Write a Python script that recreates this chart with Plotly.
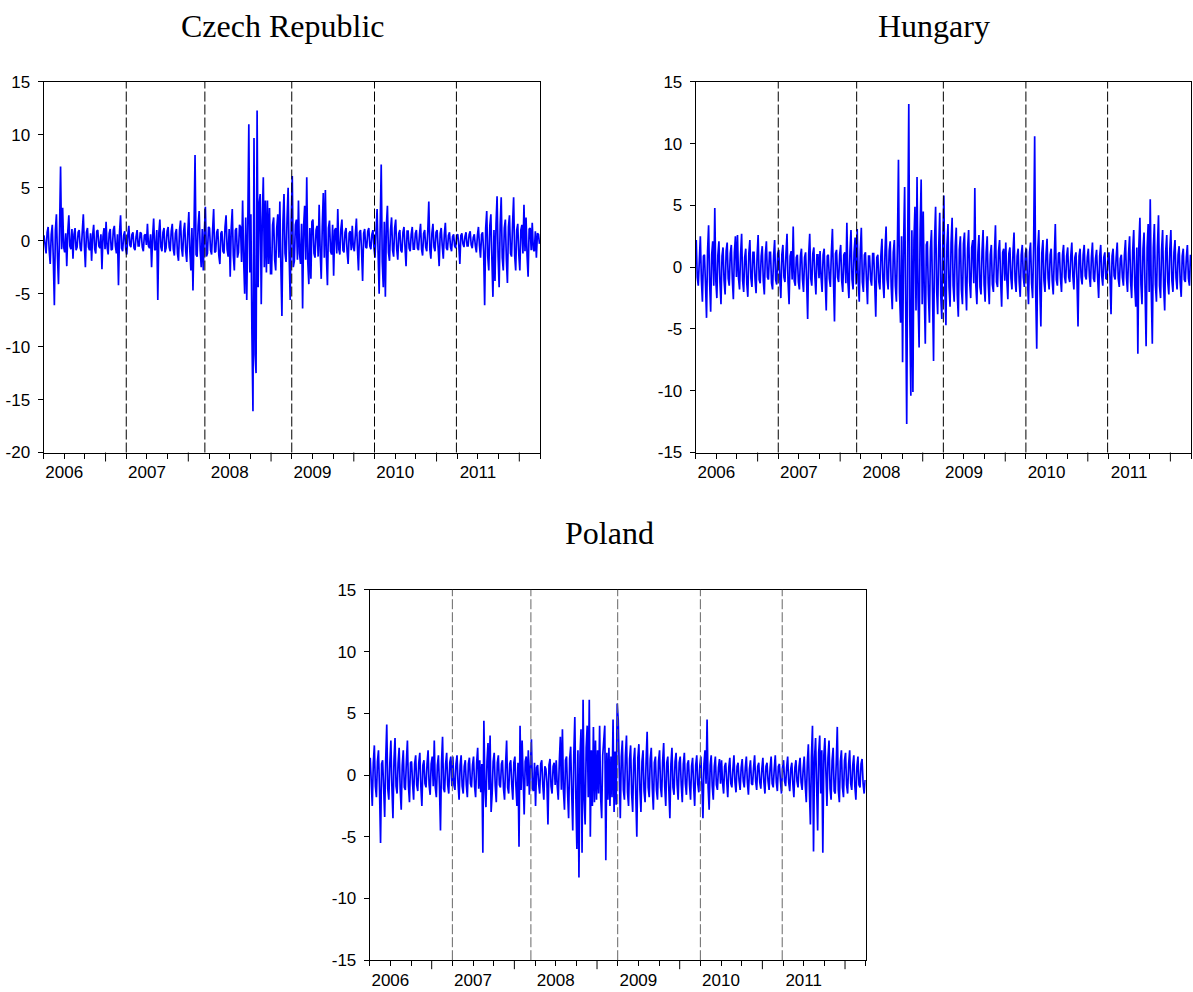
import numpy as np
import plotly.graph_objects as go

# ---------------- data (one row = one quarter, Q2-2006 .. Q1-2012) ----------
czech = [
    0.5, -0.3, -1.2, 0.8, 1.3, -0.9, -2.2, 0.6, 1.5, -1.8, -6.1, 1.0, 2.5, -1.5, -4.1, 0.9, 7.0, -0.8, 3.1, -0.6,
    -1.1, 0.7, -2.4, 0.9, 2.4, -0.5, -0.8, 1.1, -1.7, 0.6, 1.2, -0.9, -0.6, 0.8, 1.0, -0.7, -1.0, 0.9, 2.5, -0.4,
    -2.5, 0.8, 1.2, -0.6, -0.9, 0.7, -1.9, 0.5, 1.5, -0.8, -1.2, 0.9, 1.0, -0.5, -0.7, 0.6, -2.7, 0.4, 1.2, -0.8,
    1.8, -0.6, -1.3, 0.7, 1.1, -0.9, -0.8, 1.0, 1.4, -0.5, -1.2, 0.6, -4.2, 0.8, 2.4, -0.7, -1.0, 0.5, 0.9, -0.8,
    -1.3, 0.5, 1.4, -0.4, -0.6, 0.6, 0.8, -0.7, -0.9, 0.4, 1.0, -0.5, -0.5, 0.8, 0.7, -0.6, -1.0, 0.5, 0.6, -0.4,
    1.6, -0.5, -0.7, 0.6, -2.5, 0.4, 2.1, -0.9, -0.8, 1.0, -5.6, 0.7, 2.0, -0.6, -1.0, 0.8, 1.2, -1.1, -0.7, 0.9,
    1.3, -0.6, -1.0, 0.9, 1.6, -0.8, -1.4, 0.7, 1.1, -1.2, -1.9, 1.0, 1.9, -0.7, -1.5, 0.9, 1.7, -1.0, -2.0, 0.8,
    2.7, -1.0, -2.8, 1.2, -4.7, 0.9, 8.1, -1.3, -1.5, 1.4, 2.8, -0.9, -2.5, 1.1, -2.8, 0.8, 3.2, -1.5, -1.2, 1.3,
    1.2, -0.9, -1.3, 1.0, 3.0, -1.1, -1.0, 0.8, 1.1, -1.4, -2.2, 0.7, 0.9, -1.0, -1.2, 1.3, 2.4, -0.8, -1.5, 1.1,
    -3.4, 1.2, 3.0, -1.4, -2.8, 1.0, 1.2, -1.6, -1.1, 1.5, 1.3, -2.0, 3.8, -1.8, -5.0, 2.2, -5.6, 1.5, 11.0, -3.0,
    2.5, -8.8, -16.1, 9.7, -10.8, -12.5, 12.3, -4.4, 3.5, 4.4, -6.0, 2.0, 6.0, -2.5, 3.8, -3.0, 3.8, -2.2, 3.1, -3.1,
    -3.1, 1.5, 2.2, -1.8, -2.8, 1.2, 2.5, -1.6, 3.7, -2.5, -7.1, 1.8, 4.4, -1.2, -2.0, 2.2, 5.0, -1.5, -5.6, 2.0,
    6.1, -2.5, -1.9, 1.5, 2.0, -1.8, 3.8, -1.2, -2.2, 1.6, -6.4, 1.4, 3.3, -1.8, 6.0, -2.0, -4.1, 1.2, -3.6, 1.8,
    2.0, -1.2, -1.6, 1.0, 1.4, -1.5, 3.4, -1.1, -3.6, 1.3, 4.5, -1.6, 4.8, -1.4, -4.2, 1.2, 1.9, -1.0, -1.3, 1.5,
    -3.3, 1.0, 1.2, -1.2, 3.0, -0.8, -1.3, 1.1, 2.0, -0.9, -1.1, 0.8, 1.2, -1.0, -2.2, 0.7, 0.9, -0.9, 1.4, -0.6,
    -1.0, 0.6, 2.1, -0.7, -2.8, 0.8, 1.0, -0.9, -3.8, 0.7, 1.1, -0.6, -0.7, 0.9, 1.2, -0.5, -0.8, 0.6, 1.0, -0.7,
    -1.6, 0.9, 3.0, -1.2, -5.0, 1.4, 7.2, -2.0, -4.4, 1.8, -5.3, 1.5, 3.3, -1.1, -1.9, 1.0, 2.2, -0.9, -1.5, 1.2,
    2.0, -0.8, -1.8, 0.7, 1.0, -0.9, -1.1, 0.8, 1.3, -0.6, -2.4, 0.9, 0.9, -0.7, -1.0, 0.6, 1.3, -0.8, -0.8, 0.7,
    1.0, -0.7, -0.9, 0.6, 1.6, -0.8, -1.4, 0.7, 1.0, -0.6, -1.0, 0.9, 3.7, -0.8, -1.7, 0.7, 1.6, -0.6, -1.0, 0.8,
    1.0, -0.6, -2.4, 0.7, 1.2, -0.5, -1.7, 0.6, 1.7, -0.7, -0.9, 0.5, 0.8, -0.6, -1.0, 0.4, 0.6, -0.5, -0.7, 0.5,
    0.6, -0.4, -2.2, 0.5, 0.7, -0.3, -0.6, 0.4, 0.8, -0.5, -0.5, 0.6, 0.9, -0.4, -0.7, 0.3, 0.6, -0.5, -1.1, 0.5,
    1.3, -0.5, -1.6, 0.6, 0.8, -1.0, -6.1, 1.2, 2.8, -1.5, -2.8, 1.4, 2.5, -1.8, -5.3, 1.0, -3.8, 1.6, 4.2, -1.5,
    -4.4, 1.5, 4.1, -1.6, -2.8, 1.2, 2.0, -1.8, -4.0, 1.3, 2.4, -1.2, -1.5, 1.6, 4.1, -1.4, -2.8, 1.0, 1.6, -1.3,
    -2.8, 1.0, 1.5, -1.2, 3.4, -1.0, 2.2, -1.4, -3.4, 1.1, 1.2, -0.9, 1.7, -0.8, -1.0, 0.9, -1.6, 0.7, 0.6, -0.3,
]

hungary = [
    2.2, -0.8, -1.5, 1.2, 2.5, -1.0, -2.8, 0.9, 1.0, -1.4, -4.1, 1.3, 3.4, -1.2, -3.6, 1.0, 2.1, -1.5, 4.8, -1.1,
    -2.5, 1.0, 2.1, -1.2, -3.0, 0.9, 1.6, -1.1, -2.2, 1.3, 2.0, -0.9, -1.5, 1.1, 1.8, -1.0, -2.6, 1.2, 2.5, -0.8,
    2.6, -0.9, -1.8, 1.0, 2.7, -1.1, -2.0, 0.8, 1.5, -1.3, -2.4, 1.1, 2.2, -0.9, -1.6, 1.2, 1.2, -1.0, -2.1, 0.9,
    2.6, -1.0, -1.3, 0.9, 1.7, -1.1, -2.2, 1.0, 2.1, -0.8, -1.0, 1.2, 1.2, -1.3, -1.8, 0.9, 2.2, -1.0, -1.4, 1.1,
    1.4, -0.9, -2.5, 1.0, 1.8, -0.8, -1.2, 1.1, 2.7, -1.2, -3.0, 0.9, 1.3, -1.0, 3.3, -1.1, -1.5, 0.8, 1.0, -1.2,
    -1.8, 0.9, 1.5, -1.0, -2.0, 0.8, 1.2, -1.1, -4.2, 1.0, 2.7, -0.9, -1.5, 1.1, 1.6, -0.8, -2.2, 1.0, 1.0, -0.9,
    1.3, -0.8, -2.0, 1.0, 1.5, -1.1, -3.5, 0.9, 1.0, -0.9, -1.6, 1.2, 3.1, -1.0, -4.4, 1.1, 1.4, -0.8, -1.2, 1.0,
    1.8, -1.1, -2.0, 1.0, 1.2, -1.3, 3.6, -1.2, -2.5, 1.3, 3.0, -1.0, -1.8, 1.2, 2.4, -1.4, 3.1, -1.1, -2.8, 1.3,
    3.2, -1.2, -2.0, 1.0, 1.2, -1.1, -3.0, 0.9, 0.9, -1.0, -1.5, 1.1, 1.1, -1.3, -4.0, 0.8, 1.0, -1.2, -1.8, 1.0,
    2.3, -1.2, -2.5, 1.4, 3.3, -1.0, -1.8, 1.3, 2.1, -1.6, -3.4, 1.2, 2.2, -1.5, -2.8, 1.8, 8.7, -2.0, -4.5, 2.5,
    -7.7, 2.0, 6.5, -3.0, -12.7, 2.5, 13.2, -4.0, -10.4, 3.0, -10.1, 2.2, 4.9, -3.5, 7.3, -2.5, -6.5, 3.0, 7.1, -3.0,
    4.5, -2.0, -6.2, 1.8, 2.1, -2.2, -4.5, 1.5, 3.0, -2.0, -7.6, 2.2, 4.9, -1.8, -3.8, 1.6, 4.4, -2.3, -4.2, 2.0,
    5.8, -2.0, -4.7, 1.8, 3.5, -1.6, -3.2, 2.0, 4.0, -1.5, -2.8, 1.7, 3.2, -2.2, -4.0, 1.4, 2.5, -1.8, -3.0, 1.9,
    2.8, -1.4, -3.5, 1.5, 3.0, -1.2, -2.5, 1.6, 2.2, -1.3, 6.4, -1.5, -3.0, 1.2, 2.6, -1.6, -2.2, 1.3, 3.0, -1.4,
    -2.8, 1.2, 2.5, -1.3, -3.0, 1.0, 1.8, -1.4, -2.0, 1.1, 3.4, -1.2, -1.6, 1.3, 2.2, -1.0, -3.2, 1.2, 1.5, -1.1,
    2.0, -1.0, -2.6, 1.1, 1.6, -0.9, -1.8, 1.2, 2.8, -1.1, -2.0, 0.9, 1.5, -1.2, -2.4, 1.0, 1.8, -0.8, -1.6, 1.1,
    1.5, -1.0, -3.0, 1.2, 2.0, -1.3, -2.5, 1.8, 10.6, -2.0, -6.6, 1.5, 3.0, -1.6, -4.8, 1.2, 2.2, -1.1, -2.0, 1.0,
    2.3, -0.9, -1.8, 1.0, 1.5, -1.1, -2.2, 0.8, 3.5, -1.0, -1.5, 1.1, 1.2, -0.9, -2.0, 1.0, 1.8, -0.8, -1.3, 0.9,
    1.6, -0.8, -1.2, 0.9, 2.0, -0.7, -1.8, 0.8, 1.2, -1.0, -4.8, 0.9, 1.5, -0.8, -1.4, 1.0, 1.8, -0.7, -1.0, 0.8,
    1.5, -0.7, -1.6, 0.8, 2.0, -0.9, -1.2, 0.7, 1.4, -0.8, -2.5, 0.9, 1.8, -0.7, -1.5, 0.8, 1.2, -0.9, -1.0, 0.7,
    1.2, -0.8, -3.8, 0.9, 1.5, -0.7, -1.0, 0.8, 2.0, -0.9, -1.6, 0.7, 1.0, -0.8, -1.5, 1.0, 2.2, -0.9, -2.0, 1.1,
    2.5, -1.2, -2.5, 1.3, 3.0, -1.5, -3.2, 1.6, -7.0, 1.8, 4.0, -1.4, -3.0, 1.5, 2.8, -1.8, -6.4, 1.6, 3.5, -2.0,
    5.5, -1.8, -6.2, 1.6, 3.5, -1.4, -2.8, 1.7, 4.2, -1.5, -2.5, 1.4, 3.0, -1.6, -3.5, 1.3, 2.6, -1.2, -2.2, 1.5,
    3.0, -1.1, -2.0, 1.2, 2.2, -0.9, -1.8, 1.0, 1.7, -1.2, -2.4, 0.9, 1.5, -1.0, -1.2, 0.8, 1.8, -0.9, -1.5, 1.0,
]

poland = [
    1.4, -0.8, -2.5, 1.0, 2.4, -0.9, -1.8, 1.1, 2.0, -1.2, -5.5, 0.9, 1.2, -1.0, -3.4, 1.3, 4.1, -1.1, -2.0, 1.0,
    2.8, -1.0, -3.5, 1.2, 3.0, -0.9, -1.5, 1.0, 2.2, -1.1, -2.8, 0.8, 2.0, -1.0, -1.2, 1.1, 2.8, -0.9, -2.2, 1.0,
    1.1, -0.7, -2.0, 0.9, 1.6, -0.8, -1.3, 1.0, 1.8, -0.9, -2.5, 0.8, 1.2, -0.7, -1.0, 0.9, 2.0, -0.8, -1.6, 0.9,
    1.5, -0.9, 2.8, -1.0, -1.8, 0.8, 1.6, -0.9, -4.5, 1.0, 3.1, -1.1, -1.4, 0.9, 1.8, -0.8, -1.5, 1.0, 1.5, -0.9,
    1.5, -0.8, -1.2, 0.9, 1.6, -0.7, -2.0, 0.8, 1.6, -0.9, -1.5, 0.7, 1.2, -0.8, -1.8, 0.9, 1.4, -0.7, -1.0, 0.8,
    1.5, -0.9, -1.8, 1.0, 2.2, -1.1, 1.2, -1.4, 0.9, -6.3, 4.4, -1.0, -2.6, 1.1, 2.6, -1.2, 3.2, -3.0, -1.5, 1.1,
    1.8, -0.9, -2.2, 1.0, 1.6, -0.8, -1.0, 0.9, 1.2, -1.1, -2.0, 0.8, 2.8, -1.0, -1.5, 0.9, 1.2, -0.8, -2.0, 1.0,
    1.5, -0.9, -2.5, 1.0, -5.8, 4.0, -1.2, 2.8, -1.0, -3.2, 1.1, 1.5, -0.9, 2.0, -1.6, 0.9, 2.9, -1.1, -1.3, 1.0,
    -2.5, 0.6, 0.8, -0.7, -1.5, 0.9, 1.2, -0.8, -2.0, 0.7, 0.5, -0.6, -4.0, 0.8, 1.3, -0.9, -1.5, 0.7, 1.0, -0.8,
    1.2, -0.9, -2.0, 1.1, 3.1, -1.2, 3.7, -1.3, -2.8, 1.2, 1.5, -1.4, -3.5, 1.3, 2.3, -1.5, -4.5, 1.6, 4.7, -1.8,
    -6.0, 2.0, -8.3, 1.5, 3.7, -6.3, 6.1, -2.0, -4.0, 2.2, 4.0, -1.8, 6.1, -5.0, 2.0, -2.5, 3.9, -2.2, 2.8, -2.0,
    2.0, -1.5, 4.0, -1.8, -3.5, 1.6, 3.3, 4.0, -6.9, 1.8, -2.0, 2.2, -2.5, 1.5, -1.8, 4.5, -3.0, 1.9, -2.4, 5.8,
    4.5, -1.6, -3.5, 1.5, 2.8, -1.2, -2.0, 1.6, 3.2, -1.4, -2.5, 1.3, 2.4, -1.5, -3.0, 1.2, 2.2, -1.6, -5.0, 1.4,
    2.5, -1.2, -3.0, 1.1, 2.0, -1.3, -2.2, 1.2, 3.5, -1.0, -1.8, 1.3, 2.2, -1.1, -2.8, 1.0, 1.5, -1.2, -2.0, 1.1,
    2.0, -1.0, -1.8, 1.1, 2.6, -0.9, -2.5, 1.0, 1.5, -1.2, -3.5, 0.9, 2.2, -1.0, -1.6, 1.1, 1.8, -0.8, -2.0, 1.0,
    1.5, -0.8, -2.2, 0.9, 1.8, -0.7, -1.6, 0.9, 1.2, -0.8, -2.0, 0.7, 1.4, -0.9, -2.5, 0.8, 1.6, -0.7, -1.4, 0.8,
    1.5, -0.8, -3.5, 0.9, 2.0, -0.7, 4.5, -1.0, -2.8, 0.8, 1.6, -0.9, -2.0, 0.7, 1.5, -0.8, -1.2, 0.6, 1.3, -0.7,
    1.2, -0.6, -1.5, 0.7, 1.0, -0.5, -1.8, 0.6, 1.4, -0.7, -1.0, 0.5, 1.6, -0.6, -1.4, 0.7, 1.0, -0.5, -1.2, 0.6,
    1.3, -0.5, -1.0, 0.6, 1.5, -0.6, -1.6, 0.5, 1.2, -0.7, -0.8, 0.6, 1.6, -0.5, -1.2, 0.7, 1.0, -0.6, -1.1, 0.5,
    1.4, -0.6, -1.5, 0.7, 1.0, -0.5, -1.2, 0.6, 1.5, -0.7, -1.0, 0.5, 1.6, -0.6, -1.3, 0.7, 0.9, -0.5, -1.5, 0.6,
    1.2, -0.5, -0.9, 0.6, 1.5, -0.6, -1.3, 0.5, 1.0, -0.7, -1.8, 0.6, 1.2, -0.5, -1.0, 0.7, 1.4, -0.6, -1.2, 0.5,
    1.5, -0.8, -2.2, 1.0, 2.5, -1.2, -4.0, 1.5, 4.0, -6.2, 1.4, 3.0, -1.6, -4.5, 1.8, 3.2, -1.5, 2.0, -6.3, 1.6,
    3.0, -1.2, -2.5, 1.4, 2.8, -1.1, -2.0, 1.2, 2.2, -1.3, -1.5, 1.0, 3.9, -1.2, -2.2, 1.1, 2.0, -1.0, -1.8, 1.2,
    1.8, -0.8, -1.5, 0.9, 2.0, -0.7, -1.2, 0.8, 1.6, -0.9, -2.0, 0.7, 1.5, -0.8, -1.0, 0.9, 1.3, -0.7, -1.5, -0.4,
]

titles = ["Czech Republic", "Hungary", "Poland"]
year_labels = ["2006", "2007", "2008", "2009", "2010", "2011"]
break_dates = [2007.25, 2008.2, 2009.25, 2010.25, 2011.24]   # vertical dashed lines
x_start, x_end = 2006.25, 2012.25
y_ranges = [(-20, 15), (-15, 15), (-15, 15)]

# ---------------- layout geometry (target screen pixels) ----------------
W, H = 1193, 992
Y_OFF, H_EFF = 7.64, 975.5      # observed vertical placement of the rendered page


def px_x(x):
    return x / W


def px_y(y):
    return 1 - (y - Y_OFF) / H_EFF


boxes = [  # left, right, top, bottom
    (43.5, 540.0, 80.7, 452.3),
    (695.7, 1191.0, 80.7, 452.3),
    (369.7, 865.7, 590.0, 961.3),
]
title_pos = [(282, 25), (934, 25), (609, 533)]
dash_colors = ["#000000", "#000000", "#666666"]

fig = go.Figure()
series = [czech, hungary, poland]
n = len(czech)
t = x_start + (np.arange(n) + 0.5) * (x_end - x_start) / n

font_axis = dict(family="Liberation Sans, Arial, Helvetica, sans-serif", size=17, color="black")
shapes = []
annotations = []

for i, vals in enumerate(series):
    sfx = "" if i == 0 else str(i + 1)
    xa, ya = "x" + sfx, "y" + sfx
    fig.add_trace(go.Scatter(x=t, y=vals, mode="lines", xaxis=xa, yaxis=ya,
                             line=dict(color="#0000FF", width=1.7),
                             showlegend=False, hoverinfo="skip"))
    L, R, T, B = boxes[i]
    lo, hi = y_ranges[i]
    yt = list(range(lo, hi + 1, 5))
    mid_years = [int(y) + 0.5 for y in year_labels]
    quarter_minor = []
    for yr in range(2006, 2013):
        for q in (0.25, 0.75):
            if x_start <= yr + q <= x_end:
                quarter_minor.append(yr + q)
    fig.layout["xaxis" + sfx] = dict(
        domain=[px_x(L), px_x(R)], anchor=ya, range=[x_start, x_end],
        showgrid=False, zeroline=False, showline=True, mirror=True,
        linecolor="black", linewidth=1,
        tickmode="array", tickvals=mid_years, ticktext=year_labels,
        ticks="outside", ticklen=5, tickcolor="black", tickwidth=1,
        tickfont=font_axis, ticklabelstandoff=-1,
        minor=dict(tickmode="array", tickvals=quarter_minor, ticks="outside",
                   ticklen=5, tickcolor="black", tickwidth=1, showgrid=False),
    )
    fig.layout["yaxis" + sfx] = dict(
        domain=[px_y(B), px_y(T)], anchor=xa, range=[lo, hi],
        showgrid=False, zeroline=False, showline=True, mirror=True,
        linecolor="black", linewidth=1,
        tickmode="array", tickvals=yt, ticktext=[str(v) for v in yt],
        ticks="outside", ticklen=5, tickcolor="black", tickwidth=1,
        tickfont=font_axis, ticklabelstandoff=4,
    )
    # year-boundary (long) ticks
    for yr in range(2007, 2013):
        shapes.append(dict(type="line", xref=xa, yref="paper", x0=yr, x1=yr,
                           y0=px_y(B), y1=px_y(B + 9),
                           line=dict(color="black", width=1)))
    # vertical dashed break lines
    for d in break_dates:
        shapes.append(dict(type="line", xref=xa, yref=ya + " domain", x0=d, x1=d,
                           y0=0, y1=1, line=dict(color=dash_colors[i], width=1, dash="10px,3px")))
    tx, ty = title_pos[i]
    annotations.append(dict(text=titles[i], x=px_x(tx), y=px_y(ty), xref="paper", yref="paper",
                            xanchor="center", yanchor="middle", showarrow=False,
                            font=dict(family="Liberation Serif, Times New Roman, serif", size=32, color="black")))

fig.update_layout(width=W, height=H, margin=dict(l=0, r=0, t=0, b=0),
                  paper_bgcolor="white", plot_bgcolor="white",
                  shapes=shapes, annotations=annotations)

fig.write_html("out.html", config={"displayModeBar": False},
               post_script="document.body.style.margin='0';document.body.style.padding='0';")
